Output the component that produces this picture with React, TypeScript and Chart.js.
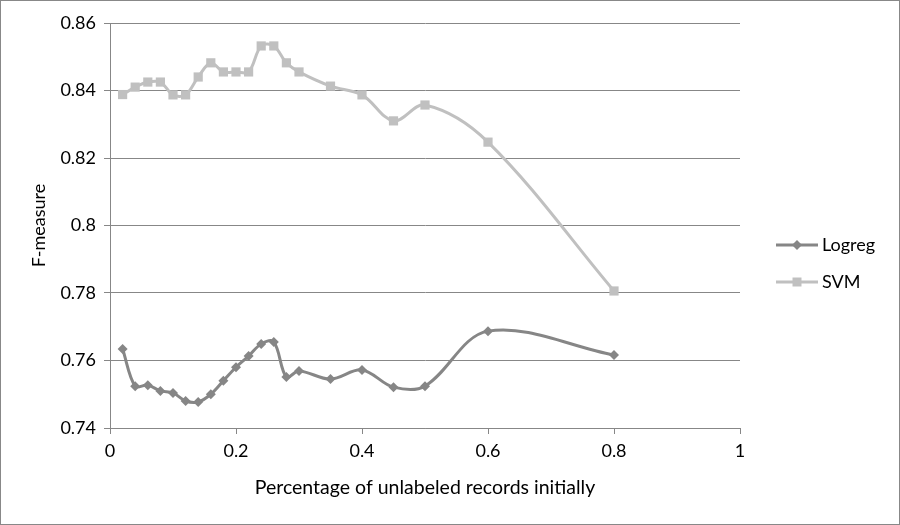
import { useEffect, useRef } from "react";
import { Chart, registerables } from "chart.js";

Chart.register(...registerables);

const xValues = [0.02, 0.04, 0.06, 0.08, 0.1, 0.12, 0.14, 0.16, 0.18, 0.2, 0.22, 0.24, 0.26, 0.28, 0.3, 0.35, 0.4, 0.45, 0.5, 0.6, 0.8];
const logregValues = [0.7634, 0.7524, 0.7527, 0.751, 0.7504, 0.748, 0.7477, 0.75, 0.754, 0.758, 0.7613, 0.7649, 0.7655, 0.7551, 0.7569, 0.7545, 0.7572, 0.7521, 0.7524, 0.7687, 0.7616];
const svmValues = [0.8388, 0.841, 0.8425, 0.8425, 0.8387, 0.8387, 0.844, 0.8482, 0.8455, 0.8455, 0.8455, 0.8532, 0.8532, 0.8482, 0.8455, 0.8413, 0.8387, 0.831, 0.8357, 0.8247, 0.7806];
const seriesNames = ["Logreg", "SVM"];
const seriesColors = ["#868686", "#c0c0c0"];
const seriesMarkers = ["rectRot", "rect"];
const xTitle = "Percentage of unlabeled records initially";
const yTitle = "F-measure";

const FONT = "Lato, 'Open Sans', sans-serif";
const AXIS_COLOR = "#878787";

const fmt = (v: number) => String(Number(Number(v).toFixed(2)));

const decorPlugin = {
  id: "decor",
  afterDraw(chart: any) {
    const ctx = chart.ctx;
    ctx.save();
    // outer border
    ctx.strokeStyle = "#888888";
    ctx.lineWidth = 1;
    ctx.strokeRect(0.5, 0.5, chart.width - 1, chart.height - 1);
    // legend
    const rows = [245, 282];
    chart.data.datasets.forEach((ds: any, i: number) => {
      const y = rows[i];
      ctx.strokeStyle = ds.borderColor;
      ctx.lineWidth = 3;
      ctx.beginPath();
      ctx.moveTo(776, y);
      ctx.lineTo(818, y);
      ctx.stroke();
      ctx.fillStyle = ds.backgroundColor;
      ctx.beginPath();
      if (ds.pointStyle === "rect") {
        ctx.rect(797 - 4.5, y - 4.5, 9, 9);
      } else {
        ctx.moveTo(797, y - 5);
        ctx.lineTo(802, y);
        ctx.lineTo(797, y + 5);
        ctx.lineTo(792, y);
        ctx.closePath();
      }
      ctx.fill();
      ctx.fillStyle = "#000000";
      ctx.font = `18px ${FONT}`;
      ctx.textBaseline = "middle";
      ctx.textAlign = "left";
      ctx.fillText(ds.label, 822, y);
    });
    ctx.restore();
  },
};

export default function App() {
  const canvasRef = useRef<HTMLCanvasElement | null>(null);

  useEffect(() => {
    document.body.style.margin = "0";
    const canvas = canvasRef.current;
    if (!canvas) return;
    const series = [logregValues, svmValues];
    const chart = new Chart(canvas, {
      type: "line",
      data: {
        datasets: series.map((vals, i) => ({
          label: seriesNames[i],
          data: xValues.map((x, j) => ({ x, y: vals[j] })),
          borderColor: seriesColors[i],
          backgroundColor: seriesColors[i],
          pointBackgroundColor: seriesColors[i],
          pointBorderColor: seriesColors[i],
          pointBorderWidth: 0,
          pointStyle: seriesMarkers[i] as any,
          pointRadius: i === 0 ? 5 : 6.5,
          borderWidth: 3,
          tension: 0.35,
          fill: false,
        })),
      },
      options: {
        animation: false,
        responsive: false,
        maintainAspectRatio: false,
        layout: { padding: { left: 24, right: 160, top: 23, bottom: 23 } },
        plugins: {
          legend: { display: false },
          tooltip: { enabled: false },
        },
        scales: {
          x: {
            type: "linear",
            min: 0,
            max: 1,
            afterFit: (s: any) => {
              s.height = 74;
            },
            ticks: {
              stepSize: 0.2,
              callback: (v: any) => fmt(v),
              font: { family: FONT, size: 18 },
              color: "#000000",
              padding: 6,
              maxRotation: 0,
            },
            grid: {
              drawOnChartArea: false,
              drawTicks: true,
              tickLength: 6,
              color: AXIS_COLOR,
            },
            border: { display: true, color: AXIS_COLOR },
            title: {
              display: true,
              text: xTitle,
              font: { family: FONT, size: 19.5 },
              color: "#000000",
              padding: { top: 4, bottom: 3 },
            },
          },
          y: {
            type: "linear",
            min: 0.74,
            max: 0.86,
            afterFit: (s: any) => {
              s.width = 86;
            },
            ticks: {
              stepSize: 0.02,
              callback: (v: any) => fmt(v),
              font: { family: FONT, size: 18 },
              color: "#000000",
              padding: 8,
            },
            grid: {
              color: AXIS_COLOR,
              tickLength: 6,
              drawTicks: true,
            },
            border: { display: true, color: AXIS_COLOR },
            title: {
              display: true,
              text: yTitle,
              font: { family: FONT, size: 18 },
              color: "#000000",
              padding: { top: 4, bottom: 4 },
            },
          },
        },
      },
      plugins: [decorPlugin],
    });
    return () => chart.destroy();
  }, []);

  return (
    <div style={{ width: 900, height: 525, background: "#ffffff" }}>
      <canvas ref={canvasRef} width={900} height={525} style={{ display: "block", width: 900, height: 525 }} />
    </div>
  );
}
